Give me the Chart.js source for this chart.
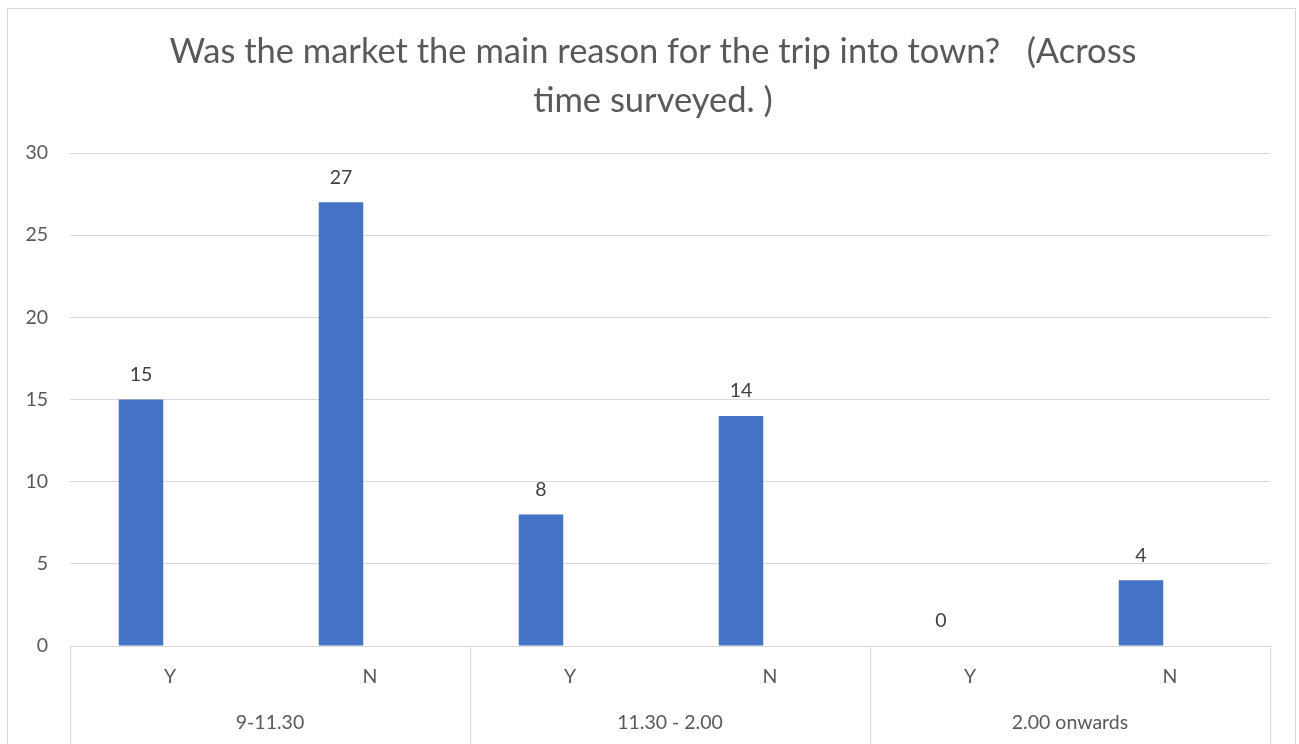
<!DOCTYPE html>
<html>
<head>
<meta charset="utf-8">
<script src="https://cdn.jsdelivr.net/npm/chart.js@4.4.1/dist/chart.umd.min.js"></script>
<style>
  html, body { margin: 0; padding: 0; background: #fff; }
  #wrap { position: relative; width: 1299px; height: 744px; overflow: hidden; }
  #frame { position: absolute; left: 7px; top: 8px; width: 1287px; height: 760px; border: 1px solid #d9d9d9; pointer-events: none; }
</style>
</head>
<body>
<div id="wrap">
  <canvas id="c" width="1299" height="744"></canvas>
  <div id="frame"></div>
</div>
<script>
const titleLines = ["Was the market the main reason for the trip into town?   (Across", "time surveyed. )"];
const answers = ["Y", "N", "Y", "N", "Y", "N"];
const timeGroups = ["9-11.30", "11.30 - 2.00", "2.00 onwards"];
const counts = [15, 27, 8, 14, 0, 4];
// second (blank) series present in the source chart: occupies a slot but has no values
const blankSeries = [null, null, null, null, null, null];
const yTicks = [0, 5, 10, 15, 20, 25, 30];

const FONT = "Lato, 'Open Sans', sans-serif";
const GRID = "#d9d9d9";
const TEXT = "#595959";

const chartTitle = {
  id: "chartTitle",
  afterDraw(chart) {
    const ctx = chart.ctx;
    const size = 34.5, lh = size * 1.4;
    ctx.save();
    ctx.font = size + "px " + FONT;
    ctx.fillStyle = TEXT;
    ctx.textAlign = "center";
    ctx.textBaseline = "middle";
    const cx = (chart.width + 7) / 2;
    titleLines.forEach((t, i) => ctx.fillText(t, cx, 28 + lh / 2 + i * lh));
    ctx.restore();
  }
};

const dataLabels = {
  id: "dataLabels",
  afterDatasetsDraw(chart) {
    const ctx = chart.ctx;
    const meta = chart.getDatasetMeta(0);
    ctx.save();
    ctx.font = "19.5px " + FONT;
    ctx.fillStyle = "#404040";
    ctx.textAlign = "center";
    ctx.textBaseline = "middle";
    meta.data.forEach((bar, i) => {
      ctx.fillText(String(counts[i]), bar.x, bar.y - 25);
    });
    ctx.restore();
  }
};

const groupSeparators = {
  id: "groupSeparators",
  afterDraw(chart) {
    const x = chart.scales.x;
    const y = chart.scales.y;
    const ctx = chart.ctx;
    const zero = y.getPixelForValue(0);
    const per = answers.length / timeGroups.length;
    const bounds = [x.left];
    for (let g = 1; g < timeGroups.length; g++) {
      const a = x.getPixelForValue(g * per - 1);
      const b = x.getPixelForValue(g * per);
      bounds.push((a + b) / 2);
    }
    bounds.push(x.right);
    ctx.save();
    ctx.strokeStyle = GRID;
    ctx.lineWidth = 1;
    bounds.forEach(px => {
      const p = Math.round(px) + 0.5;
      ctx.beginPath();
      ctx.moveTo(p, zero);
      ctx.lineTo(p, chart.height);
      ctx.stroke();
    });
    ctx.restore();
  }
};

new Chart(document.getElementById("c"), {
  type: "bar",
  data: {
    labels: answers,
    datasets: [{
      data: counts,
      backgroundColor: "#4472c4",
      borderWidth: 0,
      barPercentage: 0.767,
      categoryPercentage: 0.58
    }, {
      data: blankSeries,
      backgroundColor: "#ed7d31",
      borderWidth: 0,
      barPercentage: 0.767,
      categoryPercentage: 0.58
    }]
  },
  options: {
    responsive: false,
    animation: false,
    layout: { padding: { left: 0, right: 29, top: 153, bottom: 0 } },
    plugins: {
      legend: { display: false },
      tooltip: { enabled: false },
      title: { display: false }
    },
    scales: {
      y: {
        min: 0,
        max: 30,
        afterBuildTicks(scale) { scale.ticks = yTicks.map(v => ({ value: v })); },
        afterFit(scale) { scale.width = 70; },
        ticks: { color: TEXT, font: { family: FONT, size: 19.5 }, padding: 22 },
        grid: { color: GRID, drawTicks: false, lineWidth: 1 },
        border: { display: false }
      },
      x: {
        position: "bottom",
        afterFit(scale) { scale.height = 46; },
        ticks: { color: TEXT, font: { family: FONT, size: 19.5 }, padding: 19, maxRotation: 0, autoSkip: false },
        grid: { display: false, drawTicks: false },
        border: { display: true, color: GRID }
      },
      x2: {
        type: "category",
        position: "bottom",
        labels: timeGroups,
        offset: true,
        afterFit(scale) { scale.height = 52; },
        ticks: { color: TEXT, font: { family: FONT, size: 19.5 }, padding: 19, maxRotation: 0, autoSkip: false },
        grid: { display: false, drawTicks: false },
        border: { display: false }
      }
    }
  },
  plugins: [chartTitle, dataLabels, groupSeparators]
});
</script>
</body>
</html>
